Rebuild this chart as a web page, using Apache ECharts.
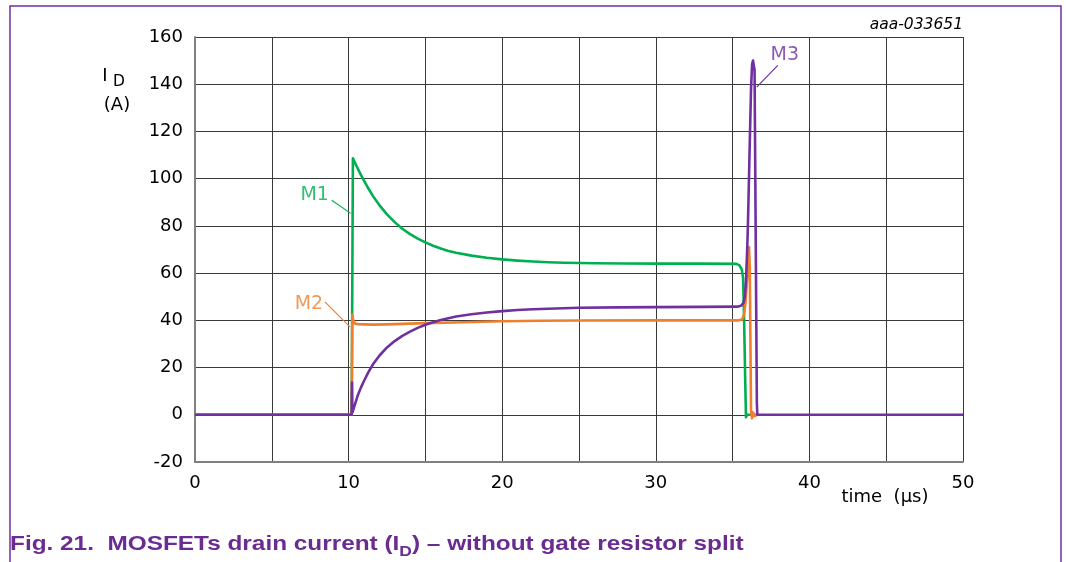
<!DOCTYPE html>
<html>
<head>
<meta charset="utf-8">
<script src="https://cdn.jsdelivr.net/npm/echarts@6/dist/echarts.min.js"></script>
<style>
  html, body { margin: 0; padding: 0; background: #fff; }
  #chart { width: 1066px; height: 562px; }
</style>
</head>
<body>
<div id="chart"></div>
<script>
// ---- data (time in µs, current in A) ----
const xTicks = [0, 10, 20, 30, 40, 50];
const yTicks = [-20, 0, 20, 40, 60, 80, 100, 120, 140, 160];

// M1 and M2 traces end where they merge into the M3 trace at 0 A (hidden beneath it afterwards)
const m1Time = [0, 10.2, 10.28, 10.5, 10.8, 11.2, 11.6, 12.0, 12.5, 13.0, 13.5, 14.0, 14.5, 15.0, 15.5, 16.0, 16.5, 17.0, 18.0, 19.0, 20.0, 21.0, 22.0, 23.0, 24.0, 26.0, 28.0, 30.0, 33.0, 35.25, 35.45, 35.6, 35.68, 35.75, 35.82, 35.87, 35.95, 36.6];
const m1Curr = [0, 0, 108.6, 105.6, 101.6, 96.8, 92.5, 88.8, 84.9, 81.6, 78.8, 76.5, 74.6, 73.0, 71.6, 70.4, 69.4, 68.6, 67.4, 66.5, 65.8, 65.3, 64.9, 64.6, 64.4, 64.2, 64.1, 64.0, 64.0, 63.9, 63.3, 61.5, 58, 40, 15, -1, 0, 0];

const m2Time = [0, 10.2, 10.24, 10.3, 10.4, 10.6, 11.0, 11.6, 12.5, 13.5, 15.0, 17.5, 20.0, 22.5, 25.0, 30.0, 35.4, 35.62, 35.75, 35.85, 35.95, 36.02, 36.07, 36.12, 36.2, 36.26, 36.33, 36.42, 36.5, 36.62];
const m2Curr = [0, 0, 42.5, 40, 38.7, 38.4, 38.3, 38.2, 38.3, 38.5, 38.8, 39.2, 39.6, 39.8, 39.9, 40, 40, 40.4, 42.5, 48, 58, 67, 71, 62, 2, -1.5, 1.0, -0.5, 0, 0];

const m3Time = [0, 10.2, 10.22, 10.25, 10.3, 10.42, 10.6, 10.8, 11.0, 11.3, 11.6, 12.0, 12.5, 13.0, 13.5, 14.0, 14.5, 15.0, 15.5, 16.0, 16.5, 17.0, 18.0, 19.0, 20.0, 21.0, 22.0, 23.5, 25.0, 27.5, 30.0, 33.0, 35.3, 35.55, 35.7, 35.8, 35.88, 35.95, 36.0, 36.1, 36.2, 36.27, 36.33, 36.38, 36.43, 36.5, 36.58, 36.61, 50];
const m3Curr = [0, 0, 13.7, 1, 0.8, 4.5, 8.3, 11.5, 14.3, 18.2, 21.5, 25.0, 28.5, 31.2, 33.4, 35.2, 36.8, 38.1, 39.2, 40.1, 40.9, 41.6, 42.6, 43.3, 43.9, 44.4, 44.7, 45.0, 45.3, 45.5, 45.6, 45.7, 45.8, 46.2, 47.3, 50, 58, 70, 81, 110, 138, 148.5, 150, 149.5, 146, 80, 5, 0, 0];

// curve labels (text position) and leader lines, in data units
const labelNames = ['M1', 'M2', 'M3'];
const labelPos = [[7.79, 93.2], [7.42, 47.0], [38.4, 152.4]];
const leaderFrom = [[8.9, 90.9], [8.46, 47.8], [37.94, 148.0]];
const leaderTo = [[10.14, 85.3], [10.09, 37.2], [36.57, 138.8]];

const colors = ['#00b050', '#f07f2d', '#7030a0'];
const times = [m1Time, m2Time, m3Time];
const currs = [m1Curr, m2Curr, m3Curr];

const chart = echarts.init(document.getElementById('chart'), null, { renderer: 'canvas' });
const FONT = 'DejaVu Sans';

const series = [];
for (let i = 0; i < 3; i++) {
  series.push({
    name: labelNames[i],
    type: 'line',
    data: times[i].map((t, k) => [t, currs[i][k]]),
    showSymbol: false,
    symbol: 'none',
    lineStyle: { color: colors[i], width: 2.6, join: 'round' },
    z: 3 + i,
    markLine: {
      silent: true,
      symbol: ['none', 'none'],
      label: { show: false },
      lineStyle: { color: colors[i], width: 1.2, type: 'solid' },
      data: [[{ coord: leaderFrom[i] }, { coord: leaderTo[i] }]]
    }
  });
  series.push({
    type: 'scatter',
    data: [labelPos[i]],
    symbolSize: 1,
    itemStyle: { color: 'rgba(0,0,0,0)' },
    silent: true,
    z: 10,
    label: {
      show: true,
      position: 'inside',
      formatter: labelNames[i],
      color: colors[i],
      fontFamily: FONT,
      fontSize: 19
    }
  });
}

chart.setOption({
  animation: false,
  backgroundColor: '#ffffff',
  grid: { left: 195, top: 37, width: 768, height: 425, containLabel: false },
  xAxis: {
    type: 'value',
    min: 0, max: 50, interval: 5,
    axisLine: { show: true, onZero: false, lineStyle: { color: '#808080', width: 2 } },
    axisTick: { show: false },
    splitLine: { show: true, lineStyle: { color: '#3a3a3a', width: 1 } },
    axisLabel: {
      color: '#000', fontFamily: FONT, fontSize: 18, margin: 12,
      formatter: v => (xTicks.indexOf(v) >= 0 ? String(v) : '')
    }
  },
  yAxis: {
    type: 'value',
    min: -20, max: 160, interval: 20,
    axisLine: { show: true, onZero: false, lineStyle: { color: '#808080', width: 2 } },
    axisTick: { show: false },
    splitLine: { show: true, lineStyle: { color: '#3a3a3a', width: 1 } },
    axisLabel: {
      color: '#000', fontFamily: FONT, fontSize: 18, margin: 12,
      formatter: v => (yTicks.indexOf(v) >= 0 ? String(v) : '')
    }
  },
  graphic: [
    { type: 'rect', shape: { x: 10, y: 6, width: 1051, height: 620 },
      style: { fill: 'none', stroke: '#7030a0', lineWidth: 1.5 }, silent: true },
    { type: 'text', x: 963, y: 25,
      style: { text: 'aaa-033651', fontFamily: FONT, fontStyle: 'italic', fontSize: 15.5,
               fill: '#000', textAlign: 'right', textVerticalAlign: 'middle' } },
    { type: 'text', x: 105, y: 76,
      style: { text: 'I', fontFamily: FONT, fontSize: 18, fill: '#000', textAlign: 'center', textVerticalAlign: 'middle' } },
    { type: 'text', x: 119, y: 82,
      style: { text: 'D', fontFamily: FONT, fontSize: 15.5, fill: '#000', textAlign: 'center', textVerticalAlign: 'middle' } },
    { type: 'text', x: 117, y: 105,
      style: { text: '(A)', fontFamily: FONT, fontSize: 18, fill: '#000', textAlign: 'center', textVerticalAlign: 'middle' } },
    { type: 'text', x: 885, y: 497,
      style: { text: 'time  (µs)', fontFamily: FONT, fontSize: 18, fill: '#000', textAlign: 'center', textVerticalAlign: 'middle' } },
    { type: 'text', x: 10, y: 544, scaleX: 1.16,
      style: {
        text: '{b|Fig. 21.  MOSFETs drain current (I}{s|D}{b|) – without gate resistor split}',
        textVerticalAlign: 'middle',
        rich: {
          b: { fontFamily: 'Liberation Sans', fontWeight: 'bold', fontSize: 21, fill: '#6a2c91', color: '#6a2c91', lineHeight: 30, verticalAlign: 'middle' },
          s: { fontFamily: 'Liberation Sans', fontWeight: 'bold', fontSize: 15, fill: '#6a2c91', color: '#6a2c91', lineHeight: 30, verticalAlign: 'bottom' }
        }
      } }
  ],
  series: series
});
</script>
</body>
</html>
